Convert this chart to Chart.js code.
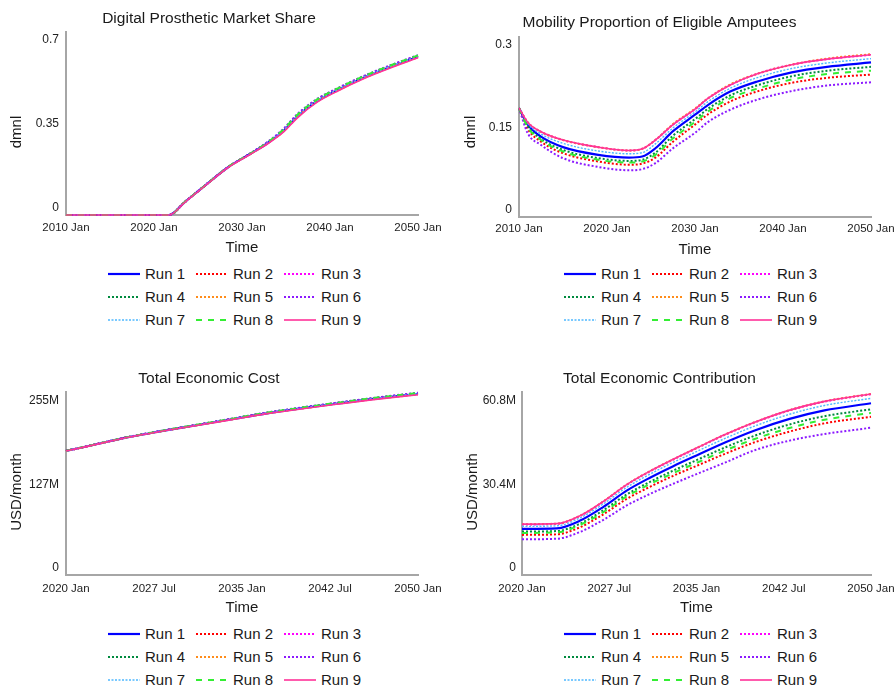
<!DOCTYPE html>
<html>
<head>
<meta charset="utf-8">
<script src="https://cdn.jsdelivr.net/npm/chart.js@4/dist/chart.umd.min.js"></script>
<style>
    body { margin: 0; background: #fff; font-family: Arial, "Liberation Sans", sans-serif; }
    #page { position: relative; width: 896px; height: 688px; overflow: hidden; }
    .panel { position: absolute; width: 448px; height: 260px; }
    .legend { position: absolute; display: grid; grid-template-columns: repeat(3, 88px); grid-auto-rows: 23px; }
    .legend div { display: flex; align-items: center; font-size: 15px; color: #1a1a1a; }
    .legend svg { width: 32px; height: 4px; margin-right: 5px; }
</style>
</head>
<body>
<div id="page">
    <div class="panel" style="left:0;top:0"><canvas id="c1" width="448" height="260"></canvas></div>
    <div class="panel" style="left:448px;top:0"><canvas id="c2" width="448" height="260"></canvas></div>
    <div class="panel" style="left:0;top:360px"><canvas id="c3" width="448" height="260"></canvas></div>
    <div class="panel" style="left:448px;top:360px"><canvas id="c4" width="448" height="260"></canvas></div>
    <div class="legend" id="lg1" style="left:108px;top:262px"></div>
    <div class="legend" id="lg2" style="left:564px;top:262px"></div>
    <div class="legend" id="lg3" style="left:108px;top:622px"></div>
    <div class="legend" id="lg4" style="left:564px;top:622px"></div>
</div>
<script>
// runs
var runNames = ["Run 1", "Run 2", "Run 3", "Run 4", "Run 5", "Run 6", "Run 7", "Run 8", "Run 9"];

// Digital Prosthetic Market Share (dmnl)
var years1 = [2010, 2016, 2021.7, 2023.5, 2026, 2028.5, 2031, 2033, 2034.7, 2036.3, 2038.5, 2041, 2044, 2047, 2050];
var shareRuns = [
    [0, 0, 0, 0.054, 0.129, 0.201, 0.256, 0.302, 0.350, 0.411, 0.474, 0.523, 0.575, 0.619, 0.659],
    [0, 0, 0, 0.054, 0.129, 0.201, 0.257, 0.304, 0.353, 0.415, 0.478, 0.527, 0.579, 0.622, 0.662],
    [0, 0, 0, 0.054, 0.129, 0.202, 0.257, 0.304, 0.354, 0.416, 0.479, 0.528, 0.579, 0.623, 0.663],
    [0, 0, 0, 0.054, 0.129, 0.202, 0.257, 0.305, 0.355, 0.417, 0.480, 0.529, 0.580, 0.624, 0.664],
    [0, 0, 0, 0.054, 0.129, 0.201, 0.255, 0.301, 0.348, 0.409, 0.472, 0.521, 0.573, 0.617, 0.657],
    [0, 0, 0, 0.054, 0.130, 0.202, 0.258, 0.307, 0.359, 0.421, 0.483, 0.531, 0.582, 0.626, 0.666],
    [0, 0, 0, 0.054, 0.129, 0.201, 0.256, 0.303, 0.352, 0.413, 0.476, 0.525, 0.577, 0.621, 0.661],
    [0, 0, 0, 0.054, 0.129, 0.202, 0.257, 0.305, 0.356, 0.418, 0.481, 0.530, 0.581, 0.625, 0.665],
    [0, 0, 0, 0.053, 0.128, 0.200, 0.254, 0.299, 0.345, 0.405, 0.469, 0.519, 0.571, 0.615, 0.655]
];

// Mobility Proportion of Eligible Amputees (dmnl)
var years2 = [2010, 2011, 2012.5, 2015, 2019, 2022.5, 2024, 2025.5, 2027.5, 2030, 2031.5, 2034, 2037, 2041, 2045, 2050];
var mobilityRuns = [
    [0.198, 0.168, 0.146, 0.127, 0.113, 0.108, 0.110, 0.125, 0.156, 0.186, 0.204, 0.228, 0.246, 0.263, 0.273, 0.281],
    [0.198, 0.160, 0.137, 0.116, 0.101, 0.095, 0.097, 0.108, 0.137, 0.168, 0.187, 0.210, 0.228, 0.244, 0.253, 0.259],
    [0.198, 0.172, 0.155, 0.140, 0.127, 0.121, 0.124, 0.140, 0.168, 0.196, 0.216, 0.240, 0.260, 0.277, 0.287, 0.295],
    [0.198, 0.165, 0.142, 0.122, 0.107, 0.102, 0.104, 0.117, 0.148, 0.178, 0.197, 0.221, 0.239, 0.256, 0.266, 0.273],
    [0.198, 0.172, 0.155, 0.140, 0.127, 0.121, 0.124, 0.140, 0.169, 0.197, 0.216, 0.241, 0.260, 0.277, 0.288, 0.296],
    [0.198, 0.152, 0.131, 0.107, 0.091, 0.085, 0.087, 0.098, 0.125, 0.153, 0.173, 0.195, 0.213, 0.229, 0.239, 0.245],
    [0.198, 0.170, 0.151, 0.134, 0.120, 0.115, 0.117, 0.133, 0.162, 0.191, 0.210, 0.234, 0.253, 0.270, 0.280, 0.288],
    [0.198, 0.163, 0.140, 0.119, 0.104, 0.099, 0.101, 0.113, 0.143, 0.173, 0.192, 0.216, 0.233, 0.250, 0.260, 0.266],
    [0.198, 0.172, 0.155, 0.140, 0.127, 0.121, 0.124, 0.140, 0.168, 0.196, 0.216, 0.240, 0.260, 0.277, 0.287, 0.295]
];

// Total Economic Cost (million USD/month)
var years3 = [2020, 2022.5, 2025, 2028, 2031, 2034, 2037, 2040, 2043, 2046, 2050];
var costRuns = [
    [189.5, 199.3, 209.3, 219.2, 228.3, 237.4, 246.5, 254.3, 261.5, 268.4, 276.5],
    [189.5, 199.3, 209.4, 219.4, 228.6, 237.8, 247.0, 254.9, 262.2, 269.2, 277.4],
    [189.5, 199.3, 209.4, 219.4, 228.5, 237.7, 246.9, 254.8, 262.1, 269.1, 277.2],
    [189.5, 199.4, 209.5, 219.5, 228.7, 238.0, 247.3, 255.1, 262.4, 269.5, 277.7],
    [189.4, 199.2, 209.2, 219.1, 228.1, 237.1, 246.2, 253.9, 261.0, 267.9, 275.8],
    [189.5, 199.4, 209.6, 219.7, 228.9, 238.3, 247.7, 255.6, 262.9, 270.0, 278.3],
    [189.5, 199.3, 209.3, 219.3, 228.4, 237.5, 246.7, 254.5, 261.8, 268.7, 276.9],
    [189.5, 199.4, 209.5, 219.6, 228.8, 238.1, 247.5, 255.3, 262.6, 269.7, 278.0],
    [189.3, 199.1, 209.1, 219.0, 227.9, 236.9, 246.0, 253.5, 260.6, 267.4, 275.3]
];

// Total Economic Contribution (million USD/month)
var years4 = [2020, 2023, 2025, 2027, 2029, 2031, 2033, 2035, 2037.5, 2040, 2043, 2046, 2050];
var contribRuns = [
    [16.8, 17.0, 19.8, 24.8, 30.7, 35.4, 39.6, 43.5, 48.3, 52.6, 56.8, 59.9, 62.5],
    [14.6, 14.8, 17.4, 22.1, 27.7, 32.1, 36.1, 39.7, 44.2, 48.3, 52.2, 55.2, 57.6],
    [18.4, 18.6, 21.5, 26.7, 32.8, 37.7, 42.0, 46.1, 51.1, 55.5, 59.9, 63.1, 65.8],
    [15.8, 16.0, 18.7, 23.6, 29.3, 33.9, 38.0, 41.8, 46.5, 50.7, 54.8, 57.8, 60.3],
    [18.5, 18.7, 21.6, 26.8, 32.9, 37.8, 42.1, 46.2, 51.2, 55.6, 60.0, 63.2, 65.9],
    [13.0, 13.2, 15.7, 20.1, 25.3, 29.5, 33.2, 36.7, 41.0, 45.4, 48.9, 51.3, 53.6],
    [17.7, 17.9, 20.8, 25.9, 31.9, 36.7, 41.0, 44.9, 49.8, 54.2, 58.5, 61.7, 64.3],
    [15.3, 15.5, 18.2, 22.9, 28.6, 33.1, 37.1, 40.8, 45.4, 49.5, 53.5, 56.5, 59.0],
    [18.5, 18.7, 21.6, 26.8, 32.9, 37.8, 42.1, 46.2, 51.2, 55.6, 60.0, 63.2, 65.9]
];

// tick values and labels
var xTicksA = [2010, 2020, 2030, 2040, 2050];
var xLabelsA = ["2010 Jan", "2020 Jan", "2030 Jan", "2040 Jan", "2050 Jan"];
var xTicksB = [2020, 2027.5, 2035, 2042.5, 2050];
var xLabelsB = ["2020 Jan", "2027 Jul", "2035 Jan", "2042 Jul", "2050 Jan"];
var yTicks1 = [0, 0.35, 0.7], yLabels1 = ["0", "0.35", "0.7"];
var yTicks2 = [0, 0.15, 0.3], yLabels2 = ["0", "0.15", "0.3"];
var yTicks3 = [0, 127.5, 255], yLabels3 = ["0", "127M", "255M"];
var yTicks4 = [0, 30.4, 60.8], yLabels4 = ["0", "30.4M", "60.8M"];

// styles per run
var runColors = ["#0000ff", "#ff0000", "#ff00ff", "#008a3e", "#ff8c1a", "#8c1aff", "#4db8ff", "#33ee33", "#ff3399"];
var runDash = [[], [2, 2], [2, 2], [2, 2], [2, 2], [2, 2], [2, 1.5], [6, 6], []];
var runWidth = [2.2, 2, 2, 2, 2, 2, 1.4, 2, 1.6];

var FONT = "Arial, 'Liberation Sans', sans-serif";

function yTitle(text, x, y) {
    return {
        id: "yTitle",
        afterDraw: function (chart) {
            var c = chart.ctx;
            c.save();
            c.translate(x, y);
            c.rotate(-Math.PI / 2);
            c.font = "15px " + FONT;
            c.fillStyle = "#1a1a1a";
            c.textAlign = "center";
            c.textBaseline = "middle";
            c.fillText(text, 0, 0);
            c.restore();
        }
    };
}

function makeChart(id, cfg) {
    var datasets = cfg.runs.map(function (vals, i) {
        return {
            label: runNames[i],
            data: vals.map(function (v, k) { return { x: cfg.years[k], y: v }; }),
            borderColor: runColors[i],
            borderDash: runDash[i],
            borderWidth: runWidth[i],
            borderCapStyle: "butt",
            pointRadius: 0,
            fill: false,
            cubicInterpolationMode: "monotone",
            clip: 6,
            order: 8 - i
        };
    });
    return new Chart(document.getElementById(id), {
        type: "line",
        data: { datasets: datasets },
        options: {
            responsive: false,
            animation: false,
            events: [],
            layout: { padding: { left: 0, right: 448 - cfg.right, top: 0, bottom: 0 } },
            plugins: {
                legend: { display: false },
                tooltip: { enabled: false },
                title: {
                    display: true, text: cfg.title, color: "#1a1a1a",
                    font: { family: FONT, size: 15.5, weight: "normal", lineHeight: 1.2 },
                    padding: { top: cfg.titleTop, bottom: cfg.top - cfg.titleTop - 18.6 }
                }
            },
            scales: {
                x: {
                    type: "linear", min: cfg.xTicks[0], max: cfg.xTicks[cfg.xTicks.length - 1],
                    grid: { display: false, drawTicks: false },
                    border: { display: true, color: "#a6a6a6", width: 2 },
                    afterBuildTicks: function (s) { s.ticks = cfg.xTicks.map(function (v) { return { value: v }; }); },
                    afterFit: function (s) {
                        s.height = 260 - cfg.bottom;
                        s.paddingLeft = 0; s.paddingRight = 0; // let the end labels overhang
                    },
                    ticks: {
                        autoSkip: false, maxRotation: 0, padding: cfg.xPad, color: "#222",
                        font: { family: FONT, size: 11.5 },
                        callback: function (v, i) { return cfg.xLabels[i]; }
                    },
                    title: {
                        display: true, text: "Time", color: "#1a1a1a",
                        font: { family: FONT, size: 15 },
                        padding: { top: 0, bottom: cfg.timePad }
                    }
                },
                y: {
                    min: 0, max: cfg.yMax,
                    grid: { display: false, drawTicks: false },
                    border: { display: true, color: "#a6a6a6", width: 2 },
                    afterBuildTicks: function (s) { s.ticks = cfg.yTicks.map(function (v) { return { value: v }; }); },
                    afterFit: function (s) { s.width = cfg.left; s.paddingTop = 0; s.paddingBottom = 0; },
                    ticks: {
                        padding: cfg.yPad, labelOffset: -7, color: "#222",
                        font: { family: FONT, size: 12 },
                        callback: function (v, i) { return cfg.yLabels[i]; }
                    }
                }
            }
        },
        plugins: [yTitle(cfg.yTitle, cfg.yTitleX, cfg.yTitleY)]
    });
}

function makeLegend(id) {
    var box = document.getElementById(id);
    runNames.forEach(function (name, i) {
        var cell = document.createElement("div");
        var dash = runDash[i].length ? runDash[i].join(" ") : "none";
        cell.innerHTML = '<svg viewBox="0 0 32 4"><line x1="0" y1="2" x2="32" y2="2" stroke="' + runColors[i] +
            '" stroke-width="' + runWidth[i] + '" stroke-dasharray="' + dash + '"/></svg><span>' + name + '</span>';
        box.appendChild(cell);
    });
}

makeChart("c1", {
    title: "Digital Prosthetic Market Share", years: years1, runs: shareRuns,
    left: 66, right: 418, top: 32, bottom: 215, titleTop: 9, xPad: 6, timePad: 3, yPad: 7,
    xTicks: xTicksA, xLabels: xLabelsA, yTicks: yTicks1, yLabels: yLabels1, yMax: 0.7625,
    yTitle: "dmnl", yTitleX: 17, yTitleY: 132
});
makeChart("c2", {
    title: "Mobility Proportion of Eligible Amputees", years: years2, runs: mobilityRuns,
    left: 71, right: 423, top: 37, bottom: 217, titleTop: 13.7, xPad: 5, timePad: 1.5, yPad: 7,
    xTicks: xTicksA, xLabels: xLabelsA, yTicks: yTicks2, yLabels: yLabels2, yMax: 0.3273,
    yTitle: "dmnl", yTitleX: 23, yTitleY: 132
});
makeChart("c3", {
    title: "Total Economic Cost", years: years3, runs: costRuns,
    left: 66, right: 418, top: 32, bottom: 215, titleTop: 9, xPad: 7, timePad: 2.7, yPad: 7,
    xTicks: xTicksB, xLabels: xLabelsB, yTicks: yTicks3, yLabels: yLabels3, yMax: 279.4,
    yTitle: "USD/month", yTitleX: 17, yTitleY: 132
});
makeChart("c4", {
    title: "Total Economic Contribution", years: years4, runs: contribRuns,
    left: 74, right: 423, top: 32, bottom: 215, titleTop: 9, xPad: 7, timePad: 2.7, yPad: 6,
    xTicks: xTicksB, xLabels: xLabelsB, yTicks: yTicks4, yLabels: yLabels4, yMax: 66.6,
    yTitle: "USD/month", yTitleX: 25, yTitleY: 132
});

makeLegend("lg1");
makeLegend("lg2");
makeLegend("lg3");
makeLegend("lg4");
</script>
</body>
</html>
